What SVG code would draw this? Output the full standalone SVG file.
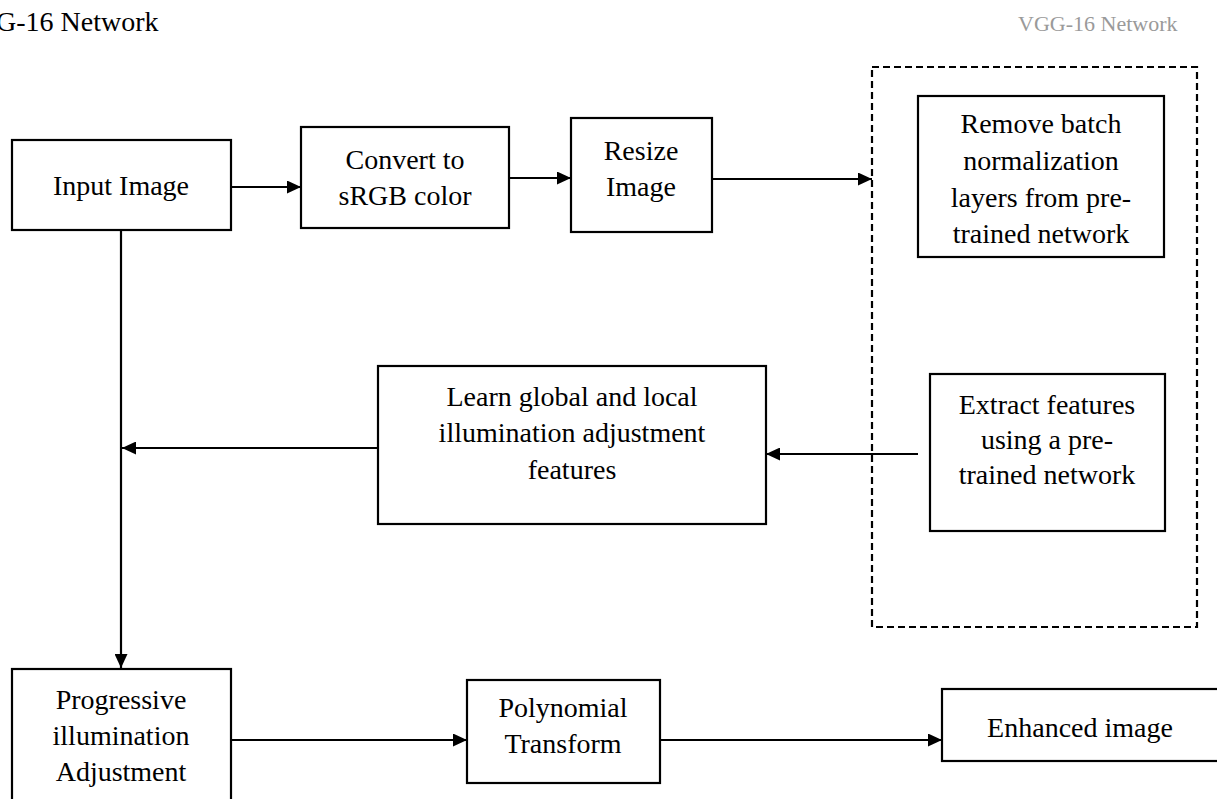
<svg xmlns="http://www.w3.org/2000/svg" width="1217" height="799" viewBox="0 0 1217 799">
<defs>
<style>
.box{fill:#fff;stroke:#000;stroke-width:2.2}
.dash{fill:none;stroke:#000;stroke-width:2.2;stroke-dasharray:7,4}
.t{font-family:"Liberation Serif","Times New Roman",serif;font-size:28px;fill:#000;text-anchor:middle}
.ln{fill:none;stroke:#000;stroke-width:2.2}
</style>
<marker id="ah" markerWidth="14" markerHeight="13" refX="14" refY="6.5" orient="auto" markerUnits="userSpaceOnUse">
<path d="M0,0 L14,6.5 L0,13 Z" fill="#000"/>
</marker>
</defs>
<rect width="1217" height="799" fill="#fff"/>
<text x="-4" y="31" style="font-family:'Liberation Serif',serif;font-size:28px;fill:#000">G-16 Network</text>
<text x="1018" y="31" style="font-family:'Liberation Serif',serif;font-size:22px;fill:#9a9a9a">VGG-16 Network</text>

<g id="group">
<rect class="dash" x="872" y="67" width="325" height="560"/>
</g>

<g id="connectors">
<line class="ln" x1="231" y1="187" x2="301" y2="187" marker-end="url(#ah)"/>
<line class="ln" x1="509" y1="178" x2="571" y2="178" marker-end="url(#ah)"/>
<line class="ln" x1="712" y1="179" x2="872" y2="179" marker-end="url(#ah)"/>
<line class="ln" x1="918" y1="454" x2="766" y2="454" marker-end="url(#ah)"/>
<line class="ln" x1="383" y1="448" x2="122" y2="448" marker-end="url(#ah)"/>
<line class="ln" x1="121" y1="231" x2="121" y2="668" marker-end="url(#ah)"/>
<line class="ln" x1="231" y1="740" x2="467" y2="740" marker-end="url(#ah)"/>
<line class="ln" x1="660" y1="740" x2="942" y2="740" marker-end="url(#ah)"/>
</g>

<g id="input">
<rect class="box" x="12" y="140" width="219" height="90"/>
<text class="t" x="121" y="195">Input Image</text>
</g>
<g id="convert">
<rect class="box" x="301" y="127" width="208" height="101"/>
<text class="t" x="405" y="169">Convert to</text>
<text class="t" x="405" y="205">sRGB color</text>
</g>
<g id="resize">
<rect class="box" x="571" y="118" width="141" height="114"/>
<text class="t" x="641" y="160">Resize</text>
<text class="t" x="641" y="196">Image</text>
</g>
<g id="remove">
<rect class="box" x="918" y="96" width="246" height="161"/>
<text class="t" x="1041" y="133">Remove batch</text>
<text class="t" x="1041" y="170">normalization</text>
<text class="t" x="1041" y="207">layers from pre-</text>
<text class="t" x="1041" y="243">trained network</text>
</g>
<g id="extract">
<rect class="box" x="930" y="374" width="235" height="157"/>
<text class="t" x="1047" y="414">Extract features</text>
<text class="t" x="1047" y="449">using a pre-</text>
<text class="t" x="1047" y="484">trained network</text>
</g>
<g id="learn">
<rect class="box" x="378" y="366" width="388" height="158"/>
<text class="t" x="572" y="406">Learn global and local</text>
<text class="t" x="572" y="442">illumination adjustment</text>
<text class="t" x="572" y="479">features</text>
</g>
<g id="progressive">
<rect class="box" x="12" y="669" width="219" height="140"/>
<text class="t" x="121" y="709">Progressive</text>
<text class="t" x="121" y="745">illumination</text>
<text class="t" x="121" y="781">Adjustment</text>
</g>
<g id="polynomial">
<rect class="box" x="467" y="680" width="193" height="103"/>
<text class="t" x="563" y="717">Polynomial</text>
<text class="t" x="563" y="753">Transform</text>
</g>
<g id="enhanced">
<rect class="box" x="942" y="689" width="285" height="72"/>
<text class="t" x="1080" y="737">Enhanced image</text>
</g>
</svg>
